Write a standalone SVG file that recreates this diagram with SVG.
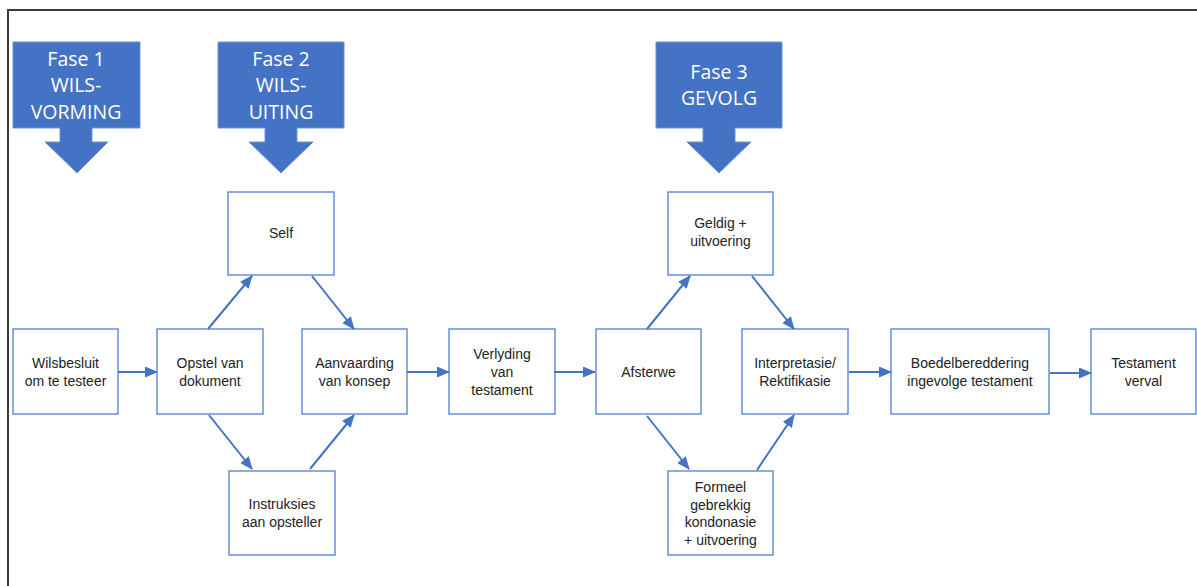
<svg xmlns="http://www.w3.org/2000/svg" width="1197" height="586" viewBox="0 0 1197 586">
<style>
.frame{fill:none;stroke:#3a3a3a;stroke-width:2}
.phase{fill:#4472C4;stroke:#6f93d4;stroke-width:1}
.pt{fill:#ffffff;font-family:"Open Sans","Noto Sans","Liberation Sans",sans-serif;font-size:19.5px;text-anchor:middle}
.box{fill:#ffffff;stroke:#4f7fcf;stroke-width:1.3}
.nt{fill:#222222;font-family:"Liberation Sans",Arial,sans-serif;font-size:14px;text-anchor:middle}
.con{stroke:#4472C4;stroke-width:2;fill:none;marker-end:url(#ah)}
</style>
<defs>
<marker id="ah" viewBox="0 0 13 11" refX="12" refY="5.5" markerWidth="13" markerHeight="11" markerUnits="userSpaceOnUse" orient="auto">
<path d="M0,0 L13,5.5 L0,11 Z" fill="#4472C4"/>
</marker>
</defs>
<rect width="1197" height="586" fill="#ffffff"/>
<path class="frame" d="M7,10 H1197 M8,10 V586"/>

<g id="fase1">
<path class="phase" d="M13,42 H140 V128 H92 V142 H108 L77,173 L45,142 H60 V128 H13 Z"/>
<text class="pt" x="76" y="66">Fase 1</text>
<text class="pt" x="76" y="92">WILS-</text>
<text class="pt" x="76" y="119">VORMING</text>
</g>
<g id="fase2">
<path class="phase" d="M218,42 H344 V128 H297 V142 H313 L281,173 L249,142 H265 V128 H218 Z"/>
<text class="pt" x="281" y="66">Fase 2</text>
<text class="pt" x="281" y="92">WILS-</text>
<text class="pt" x="281" y="119">UITING</text>
</g>
<g id="fase3">
<path class="phase" d="M656,42 H782 V128 H735 V142 H751 L719,173 L687,142 H703 V128 H656 Z"/>
<text class="pt" x="719" y="79">Fase 3</text>
<text class="pt" x="719" y="105">GEVOLG</text>
</g>

<g id="wilsbesluit">
<rect class="box" x="13" y="329" width="105" height="85"/>
<text class="nt" x="65.5" y="368">Wilsbesluit</text>
<text class="nt" x="65.5" y="386">om te testeer</text>
</g>
<g id="opstel">
<rect class="box" x="157" y="329" width="106" height="85"/>
<text class="nt" x="210" y="368">Opstel van</text>
<text class="nt" x="210" y="386">dokument</text>
</g>
<g id="self">
<rect class="box" x="228" y="192" width="106" height="83"/>
<text class="nt" x="281" y="238">Self</text>
</g>
<g id="instruksies">
<rect class="box" x="229" y="471" width="106" height="84"/>
<text class="nt" x="282" y="509">Instruksies</text>
<text class="nt" x="282" y="527">aan opsteller</text>
</g>
<g id="aanvaarding">
<rect class="box" x="302" y="329" width="105" height="85"/>
<text class="nt" x="354.5" y="368">Aanvaarding</text>
<text class="nt" x="354.5" y="386">van konsep</text>
</g>
<g id="verlyding">
<rect class="box" x="449" y="329" width="106" height="85"/>
<text class="nt" x="502" y="359">Verlyding</text>
<text class="nt" x="502" y="377">van</text>
<text class="nt" x="502" y="395">testament</text>
</g>
<g id="afsterwe">
<rect class="box" x="596" y="329" width="105" height="85"/>
<text class="nt" x="648.5" y="377">Afsterwe</text>
</g>
<g id="geldig">
<rect class="box" x="668" y="192" width="105" height="83"/>
<text class="nt" x="720.5" y="228">Geldig +</text>
<text class="nt" x="720.5" y="246">uitvoering</text>
</g>
<g id="formeel">
<rect class="box" x="668" y="471" width="105" height="84"/>
<text class="nt" x="720.5" y="492">Formeel</text>
<text class="nt" x="720.5" y="510">gebrekkig</text>
<text class="nt" x="720.5" y="527">kondonasie</text>
<text class="nt" x="720.5" y="545">+ uitvoering</text>
</g>
<g id="interpretasie">
<rect class="box" x="742" y="329" width="106" height="85"/>
<text class="nt" x="795" y="368">Interpretasie/</text>
<text class="nt" x="795" y="386">Rektifikasie</text>
</g>
<g id="boedel">
<rect class="box" x="891" y="329" width="158" height="85"/>
<text class="nt" x="970" y="368">Boedelbereddering</text>
<text class="nt" x="970" y="386">ingevolge testament</text>
</g>
<g id="verval">
<rect class="box" x="1091" y="329" width="105" height="85"/>
<text class="nt" x="1143.5" y="368">Testament</text>
<text class="nt" x="1143.5" y="386">verval</text>
</g>

<g id="connectors">
<line class="con" x1="118" y1="372" x2="157" y2="372"/>
<line class="con" x1="407" y1="372" x2="449" y2="372"/>
<line class="con" x1="554" y1="372" x2="595" y2="372"/>
<line class="con" x1="849" y1="372" x2="891" y2="372"/>
<line class="con" x1="1050" y1="373" x2="1091" y2="373"/>
<line class="con" x1="208" y1="329" x2="252" y2="276"/>
<line class="con" x1="312" y1="276" x2="354" y2="329"/>
<line class="con" x1="209" y1="415" x2="252" y2="469"/>
<line class="con" x1="310" y1="469" x2="354" y2="415"/>
<line class="con" x1="647" y1="329" x2="690" y2="276"/>
<line class="con" x1="752" y1="276" x2="794" y2="329"/>
<line class="con" x1="647" y1="416" x2="689" y2="469"/>
<line class="con" x1="757" y1="470" x2="794" y2="415"/>
</g>
</svg>
